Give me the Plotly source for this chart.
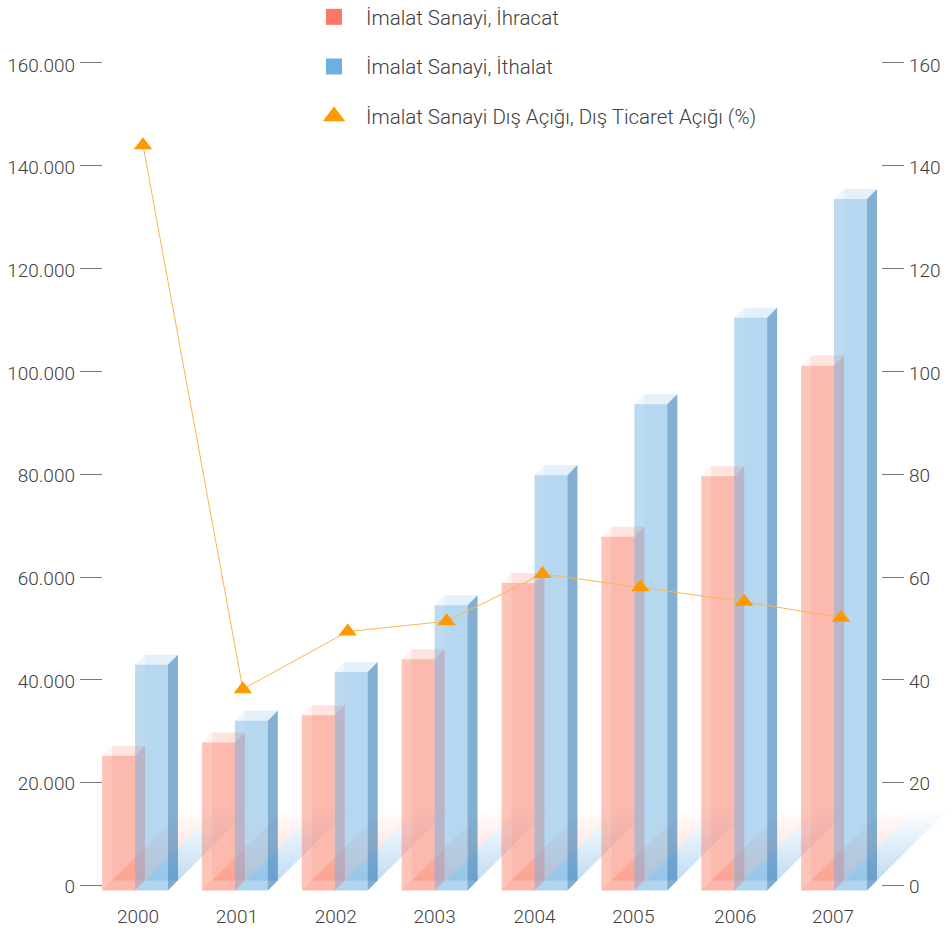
import plotly.graph_objects as go

# Manufacturing trade, million USD, and the deficit ratio in percent
years = [2000, 2001, 2002, 2003, 2004, 2005, 2006, 2007]
exports = [26200, 28800, 34100, 45000, 59800, 68800, 80600, 102100]
imports = [43900, 33000, 42500, 55500, 80800, 94600, 111400, 134500]
deficit_pct = [144.0, 38.2, 49.4, 51.4, 60.6, 58.0, 55.2, 52.1]

# Horizontal placing of the deficit points and year labels, in years
deficit_x = [2000.03, 2001.03, 2002.08, 2003.07, 2004.03, 2005.01, 2006.05, 2007.02]
label_x = [1999.98, 2000.97, 2001.96, 2002.95, 2003.95, 2004.94, 2005.96, 2006.94]
year_labels = [str(y) for y in years]

left_ticks = [0, 20000, 40000, 60000, 80000, 100000, 120000, 140000, 160000]
left_labels = ["0", "20.000", "40.000", "60.000", "80.000", "100.000", "120.000", "140.000", "160.000"]
right_ticks = [0, 20, 40, 60, 80, 100, 120, 140, 160]

NAME_EXP = "İmalat Sanayi, İhracat"
NAME_IMP = "İmalat Sanayi, İthalat"
NAME_DEF = "İmalat Sanayi Dış Açığı, Dış Ticaret Açığı (%)"

W, H = 952, 931
FONT = dict(family="Roboto", size=19, color="#404040", weight=300)
LEGEND_FONT = dict(family="Roboto", size=20.5, color="#404040", weight=300)

# Pseudo-3D box proportions in axis units
BAR_W = 0.33          # years
DEPTH_X = 0.10        # years
DEPTH_Y = 975         # half of the box depth, million USD
EXP_OFF = -0.38
IMP_OFF = -0.05
BAND_DX = 0.73
BAND_TOP = 15070

Y_RANGE = [-8850, 172250]
LABEL_RANGE = [-8670, 172670]   # tick texts sit slightly below their marks
X_RANGE = [1998.598, 2008.131]


def polys(rings):
    xs, ys = [], []
    for ring in rings:
        for px, py in ring:
            xs.append(px)
            ys.append(py)
        xs.append(ring[0][0])
        ys.append(ring[0][1])
        xs.append(None)
        ys.append(None)
    return xs, ys


def face(rings, color, yaxis="y2"):
    xs, ys = polys(rings)
    return go.Scatter(x=xs, y=ys, mode="lines", fill="toself", fillcolor=color,
                      line=dict(width=0), yaxis=yaxis, showlegend=False, hoverinfo="skip")


def band(off, rgb, alpha):
    rings = []
    for yr in years:
        a = yr + off + DEPTH_X
        rings.append([(a, DEPTH_Y), (a + BAR_W, DEPTH_Y),
                      (a + BAR_W + BAND_DX, BAND_TOP), (a + BAND_DX, BAND_TOP)])
    xs, ys = polys(rings)
    return go.Scatter(x=xs, y=ys, mode="lines", line=dict(width=0), fill="toself",
                      fillgradient=dict(type="vertical", colorscale=[
                          [0, f"rgba({rgb},{alpha})"], [1, f"rgba({rgb},0)"]]),
                      yaxis="y", showlegend=False, hoverinfo="skip")


def box(values, off, rgb, front_a, back_a, top_a, floor_a, side_color):
    out = [
        go.Bar(x=years, y=values, base=-DEPTH_Y, offset=off, width=BAR_W,
               marker=dict(color=f"rgba({rgb},{front_a})", line=dict(width=0)),
               yaxis="y2", showlegend=False, hoverinfo="skip"),
        go.Bar(x=years, y=values, base=DEPTH_Y, offset=off + DEPTH_X, width=BAR_W,
               marker=dict(color=f"rgba({rgb},{back_a})", line=dict(width=0)),
               yaxis="y2", showlegend=False, hoverinfo="skip"),
    ]
    tops, sides, floors = [], [], []
    for yr, v in zip(years, values):
        a = yr + off
        b = a + BAR_W
        lo, hi = v - DEPTH_Y, v + DEPTH_Y
        tops.append([(a, lo), (b, lo), (b + DEPTH_X, hi), (a + DEPTH_X, hi)])
        sides.append([(b, -DEPTH_Y), (b + DEPTH_X, DEPTH_Y), (b + DEPTH_X, hi), (b, lo)])
        floors.append([(a, -DEPTH_Y), (b, -DEPTH_Y), (b + DEPTH_X, DEPTH_Y), (a + DEPTH_X, DEPTH_Y)])
    out.append(face(floors, f"rgba({rgb},{floor_a})"))
    out.append(face(tops, f"rgba({rgb},{top_a})"))
    out.append(face(sides, side_color))
    return out


fig = go.Figure()

# Floor reflections sit behind the translucent boxes
fig.add_trace(band(EXP_OFF, "255,150,120", 0.40))
fig.add_trace(band(IMP_OFF, "130,185,230", 0.50))

# Legend keys
fig.add_trace(go.Scatter(x=[None], y=[None], mode="markers", name=NAME_EXP, legendgroup="a",
                         marker=dict(symbol="square", size=16, color="#ff7766")))
fig.add_trace(go.Scatter(x=[None], y=[None], mode="markers", name=NAME_IMP, legendgroup="b",
                         marker=dict(symbol="square", size=16, color="#6cb0e0")))
fig.add_trace(go.Scatter(x=[None], y=[None], mode="markers", name=NAME_DEF, legendgroup="c",
                         marker=dict(symbol="triangle-up", size=16, color="#ff9900",
                                     line=dict(color="#ff9900", width=2))))

# Boxes
for tr in box(exports, EXP_OFF, "250,115,90", 0.42, 0.13, 0.08, 0.14, "rgba(190,130,150,0.35)"):
    fig.add_trace(tr)
for tr in box(imports, IMP_OFF, "108,176,224", 0.455, 0.08, 0.11, 0.12, "rgba(50,120,180,0.58)"):
    fig.add_trace(tr)

# Deficit ratio on the right-hand axis
fig.add_trace(go.Scatter(x=deficit_x, y=deficit_pct, mode="lines", yaxis="y3",
                         line=dict(color="#fdb64a", width=1), showlegend=False, hoverinfo="skip"))
fig.add_trace(go.Scatter(x=deficit_x, y=deficit_pct, mode="markers", yaxis="y3", showlegend=False,
                         marker=dict(symbol="triangle-up", size=16, color="#ff9900",
                                     line=dict(width=0)),
                         hoverinfo="skip"))

# Empty traces that keep the text-only axes alive
fig.add_trace(go.Scatter(x=[None], y=[None], yaxis="y4", showlegend=False, hoverinfo="skip"))
fig.add_trace(go.Scatter(x=[None], y=[None], yaxis="y5", showlegend=False, hoverinfo="skip"))

TICKS = dict(ticks="outside", ticklen=22, tickwidth=1, tickcolor="#777777",
             showticklabels=False, showgrid=False, zeroline=False, showline=False)
LABELS = dict(ticks="", showgrid=False, zeroline=False, showline=False, tickfont=FONT)

fig.update_layout(
    width=W, height=H, autosize=False,
    margin=dict(l=0, r=0, t=0, b=0, pad=0, autoexpand=False),
    paper_bgcolor="white", plot_bgcolor="rgba(0,0,0,0)",
    font=FONT,
    barmode="overlay",
    showlegend=True,
    legend=dict(x=302 / W, xanchor="left", y=1 + 3 / H, yanchor="top",
                traceorder="grouped", tracegroupgap=20, itemwidth=54,
                bgcolor="rgba(0,0,0,0)", font=LEGEND_FONT),
    xaxis=dict(range=X_RANGE, domain=[0, 1], anchor="free", position=1 - 891 / H,
               tickmode="array", tickvals=label_x, ticktext=year_labels,
               ticks="", showgrid=False, zeroline=False, showline=False,
               ticklabelstandoff=12, tickfont=FONT),
    yaxis=dict(range=Y_RANGE, domain=[0, 1], anchor="free", position=102 / W, side="left",
               tickmode="array", tickvals=left_ticks, **TICKS),
    yaxis2=dict(range=Y_RANGE, overlaying="y", anchor="free", position=102 / W, visible=False),
    yaxis3=dict(range=[r / 1000 for r in Y_RANGE], overlaying="y", anchor="free", position=881 / W,
                side="right", tickmode="array", tickvals=right_ticks, **TICKS),
    yaxis4=dict(range=LABEL_RANGE, overlaying="y", anchor="free", position=80 / W, side="left",
                tickmode="array", tickvals=left_ticks, ticktext=left_labels,
                ticklabelstandoff=5, **LABELS),
    yaxis5=dict(range=[r / 1000 for r in LABEL_RANGE], overlaying="y", anchor="free", position=903 / W,
                side="right", tickmode="array", tickvals=right_ticks,
                ticklabelstandoff=5, **LABELS),
)

fig.write_html("out.html", config=dict(displayModeBar=False))
